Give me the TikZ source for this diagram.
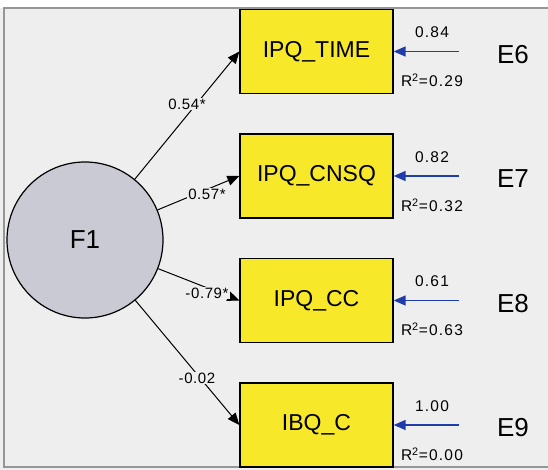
\documentclass[tikz,border=0pt]{standalone}
\usepackage{fontspec}
\setmainfont{Liberation Sans}
\usetikzlibrary{arrows.meta}
\definecolor{bg}{RGB}{238,238,238}
\definecolor{boxyellow}{RGB}{248,232,42}
\definecolor{circfill}{RGB}{202,202,212}
\definecolor{arrowblue}{RGB}{30,60,170}
\definecolor{framegray}{RGB}{150,150,150}
\begin{document}
\begin{tikzpicture}[x=1pt,y=-1pt,
  varbox/.style={draw=black,line width=1.3pt,fill=boxyellow,minimum width=153pt,minimum height=84pt,inner sep=0pt,font=\fontsize{23}{23}\selectfont},
  latent/.style={circle,draw=black,line width=1.2pt,fill=circfill,minimum size=156pt,inner sep=0pt,font=\fontsize{26}{26}\selectfont},
  loadarrow/.style={draw=black,line width=1pt,-{Triangle[length=12pt,width=10pt]}},
  errarrow/.style={draw=arrowblue,line width=1.4pt,-{Triangle[length=12pt,width=10pt]}},
  coef/.style={fill=bg,inner sep=1pt,font=\fontsize{15}{15}\selectfont\addfontfeature{LetterSpace=4}},
  smalllab/.style={inner sep=0pt,font=\fontsize{15.5}{15.5}\selectfont\addfontfeature{LetterSpace=8}},
  errlab/.style={inner sep=0pt,font=\fontsize{26}{26}\selectfont}]
\useasboundingbox (0,0) rectangle (548,470);
\fill[bg] (0,0) rectangle (548,470);
\fill[white] (0,0) rectangle (548,8);
\draw[framegray,line width=2pt] (4,8) rectangle (556,467);

\node[latent] (F1) at (85,240) {F1};
\node[varbox] (b6) at (316.5,51.5) {IPQ\_TIME};
\node[varbox] (b7) at (316.5,176) {IPQ\_CNSQ};
\node[varbox] (b8) at (316.5,300.5) {IPQ\_CC};
\node[varbox] (b9) at (316.5,425) {IBQ\_C};

\draw[loadarrow] (F1) -- (b6.west);
\draw[loadarrow] (F1) -- (b7.west);
\draw[loadarrow] (F1) -- (b8.west);
\draw[loadarrow] (F1) -- (b9.west);

\node[coef] (l6) at (187,104) {0.54*};
\node[coef] (l7) at (207,194) {0.57*};
\node[coef] (l8) at (207,293) {-0.79*};
\node[coef] (l9) at (197,378) {-0.02};

\foreach \n/\c/\v/\r in {6/51.5/0.84/0.29, 7/176/0.82/0.32, 8/300.5/0.61/0.63, 9/425/1.00/0.00}{
  \coordinate (s\n) at (459,\c);
  \draw[errarrow] (s\n) -- (b\n.east);
  \node[smalllab] (v\n) at (432,\c-19) {\v};
  \node[smalllab] (r\n) at (432,\c+29) {R\textsuperscript{2}=\r};
  \node[errlab] (E\n) at (513,\c+3) {E\n};
}
\end{tikzpicture}
\end{document}
